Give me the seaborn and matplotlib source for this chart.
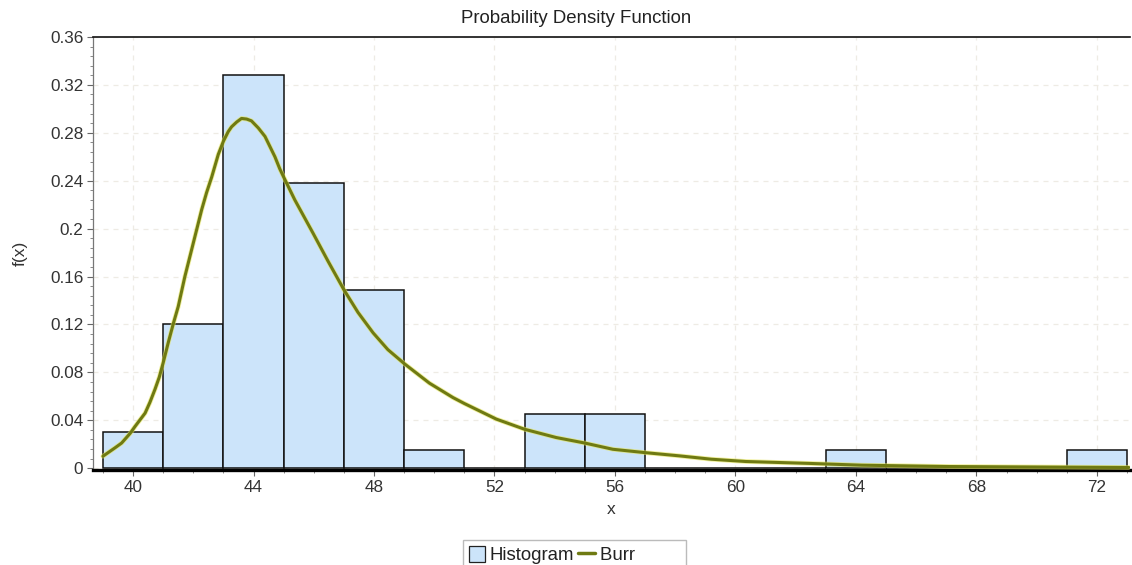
import numpy as np
import pandas as pd
import matplotlib
matplotlib.use("Agg")
import matplotlib.pyplot as plt
from matplotlib.patches import Patch
from matplotlib.lines import Line2D
from matplotlib.ticker import MultipleLocator, FixedLocator, FixedFormatter
import seaborn as sns

# ---------------- data ----------------
bin_edges = [39, 41, 43, 45, 47, 49, 51, 53, 55, 57, 59, 61, 63, 65, 67, 69, 71, 73]
bin_heights = [0.030, 0.120, 0.328, 0.238, 0.149, 0.015, 0.0, 0.045, 0.045,
               0.0, 0.0, 0.0, 0.015, 0.0, 0.0, 0.0, 0.015]

burr_x = [39.0, 39.4, 39.62, 39.9, 40.07, 40.4, 40.56, 40.73, 40.87, 41.0, 41.17,
          41.34, 41.5, 41.72, 41.94, 42.11, 42.28, 42.44, 42.61, 42.83, 43.0,
          43.16, 43.27, 43.44, 43.6, 43.77, 43.93, 44.16, 44.38, 44.71, 44.87,
          45.04, 45.37, 45.98, 46.47, 47.0, 47.47, 47.97, 48.46, 49.02, 49.84,
          50.62, 51.0, 52.06, 53.0, 54.05, 55.0, 55.93, 57.0, 58.14, 59.2,
          60.34, 61.4, 62.45, 64.2, 67.1, 73.06]
burr_y = [0.010, 0.017, 0.021, 0.029, 0.035, 0.046, 0.055, 0.066, 0.076, 0.088, 0.105,
          0.121, 0.135, 0.160, 0.182, 0.199, 0.216, 0.230, 0.243, 0.262, 0.273,
          0.281, 0.285, 0.289, 0.292, 0.2915, 0.290, 0.284, 0.277, 0.260, 0.250,
          0.241, 0.224, 0.196, 0.173, 0.149, 0.130, 0.113, 0.099, 0.087, 0.071,
          0.059, 0.054, 0.041, 0.0325, 0.0256, 0.021, 0.0158, 0.013, 0.0103, 0.0075,
          0.0056, 0.0048, 0.004, 0.0025, 0.0014, 0.0006]

x_ticks = [40, 44, 48, 52, 56, 60, 64, 68, 72]
x_tick_labels = ["40", "44", "48", "52", "56", "60", "64", "68", "72"]
y_ticks = [0, 0.04, 0.08, 0.12, 0.16, 0.2, 0.24, 0.28, 0.32, 0.36]
y_tick_labels = ["0", "0.04", "0.08", "0.12", "0.16", "0.2", "0.24", "0.28", "0.32", "0.36"]

title = "Probability Density Function"
x_label = "x"
y_label = "f(x)"
legend_labels = ["Histogram", "Burr"]

# ---------------- style ----------------
sns.set_style("white")
plt.rcParams["font.family"] = ["Liberation Sans", "DejaVu Sans"]

bar_color = "#cce4fa"
line_color = "#6f7a12"
text_color = "#333333"

fig = plt.figure(figsize=(11.32, 5.65), dpi=100)
ax = fig.add_axes([93 / 1132, 1 - 470 / 565, (1130 - 93) / 1132, (470 - 37) / 565])

centers = [(bin_edges[i] + bin_edges[i + 1]) / 2 for i in range(len(bin_heights))]
hist_df = pd.DataFrame({"x": centers, "w": bin_heights})
sns.histplot(data=hist_df, x="x", weights="w", bins=bin_edges, stat="count",
             color=bar_color, alpha=1.0, edgecolor="#111111", linewidth=1.1, ax=ax,
             zorder=2)

curve_df = pd.DataFrame({"x": burr_x, "y": burr_y})
# thin yellow halo under the olive curve
sns.lineplot(data=curve_df, x="x", y="y", sort=False, estimator=None,
             color="#e6e65a", linewidth=3.4, alpha=0.6, ax=ax, zorder=3)
sns.lineplot(data=curve_df, x="x", y="y", sort=False, estimator=None,
             color=line_color, linewidth=2.2, ax=ax, zorder=4)

ax.set_xlim(38.67, 73.1)
ax.set_ylim(-0.0015, 0.36)

ax.xaxis.set_major_locator(FixedLocator(x_ticks))
ax.xaxis.set_major_formatter(FixedFormatter(x_tick_labels))
ax.xaxis.set_minor_locator(MultipleLocator(1))
ax.yaxis.set_major_locator(FixedLocator(y_ticks))
ax.yaxis.set_major_formatter(FixedFormatter(y_tick_labels))
ax.yaxis.set_minor_locator(MultipleLocator(0.008))

ax.tick_params(axis="both", which="major", direction="out", length=4, width=0.8,
               color="#666666", labelsize=12.3, labelcolor=text_color, pad=3,
               bottom=True, left=True)
ax.tick_params(axis="both", which="minor", direction="out", length=2, width=0.7,
               color="#888888", bottom=True, left=True)

ax.grid(True, which="major", color="#eeebe4", linestyle=(0, (4, 4)), linewidth=0.9)
ax.set_axisbelow(True)

ax.spines["top"].set_visible(True)
ax.spines["top"].set_color("#111111")
ax.spines["top"].set_linewidth(1.2)
ax.spines["right"].set_visible(False)
ax.spines["left"].set_color("#777777")
ax.spines["left"].set_linewidth(0.9)
ax.spines["bottom"].set_color("#000000")
ax.spines["bottom"].set_linewidth(2.4)

ax.set_title(title, fontsize=13.4, color="#222222", pad=10, x=0.466)
ax.set_xlabel(x_label, fontsize=12.5, color=text_color, labelpad=5)
ax.set_ylabel(y_label, fontsize=12.5, color=text_color, labelpad=16)

handles = [Patch(facecolor=bar_color, edgecolor="#222222", linewidth=0.9),
           Line2D([0], [0], color=line_color, linewidth=2.5)]
leg = fig.legend(handles, [legend_labels[0], legend_labels[1] + "         "],
                 loc="upper left", ncol=2,
                 bbox_to_anchor=(463 / 1132, 1 - 540 / 565), frameon=True, fancybox=False,
                 fontsize=13.4, handlelength=0.9, handleheight=1.0, handletextpad=0.25,
                 columnspacing=0.2, borderpad=0.3, borderaxespad=0)
leg.get_frame().set_edgecolor("#aaaaaa")
leg.get_frame().set_linewidth(1.0)
for t in leg.get_texts():
    t.set_color("#222222")

fig.savefig("out.png", dpi=100)
